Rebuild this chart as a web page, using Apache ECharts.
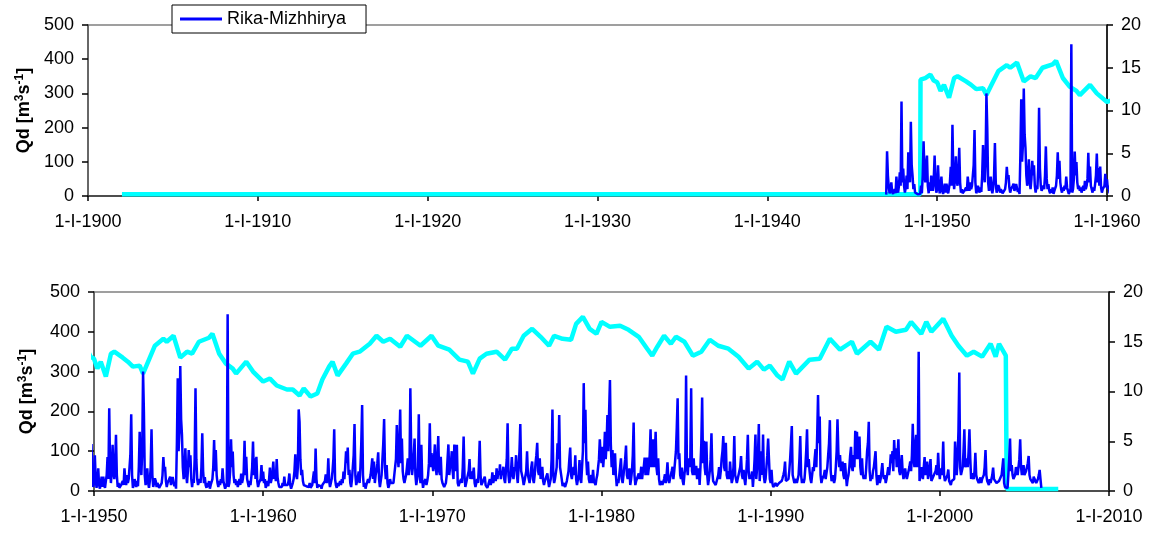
<!DOCTYPE html>
<html>
<head>
<meta charset="utf-8">
<script src="https://cdn.jsdelivr.net/npm/echarts@6/dist/echarts.min.js"></script>
<style>
html,body{margin:0;padding:0;background:#fff;}
#chart{width:1151px;height:533px;}
</style>
</head>
<body>
<div id="chart"></div>
<script>
// Station name (legend)
const stationName = 'Rika-Mizhhirya';
// X-axis ranges (years) for the two panels
const topYears = [1900, 1960];
const bottomYears = [1950, 2010];

// Daily discharge Qd [m3/s]:
// one row per calendar year starting in qdFirstYear, values evenly spread through the year
const qdFirstYear = 1947;
const qdRows = [
[4,131,60,25,8,15,40,12,6,10,20,8,57,20,10,30,69,30,276,40],          // 1947
[80,30,10,25,60,20,128,50,40,217,90,60,20,35,10,12,15,5,10,8],        // 1948
[6,30,8,60,160,70,40,90,118,30,8,40,15,60,30,15,50,118,40,10],        // 1949
[20,90,30,8,25,57,15,6,20,36,10,36,15,8,25,40,85,30,208,60],          // 1950
[20,50,116,45,30,70,141,40,10,20,8,6,15,10,25,15,57,30,15,40],        // 1951
[20,30,60,90,193,40,8,15,30,20,10,25,12,60,149,70,40,100,300,199],    // 1952
[40,15,30,57,20,8,25,60,155,40,10,20,32,25,10,20,15,8,12,5],          // 1953
[20,40,85,50,61,25,10,20,15,30,36,15,25,35,36,12,20,6,120,283],       // 1954
[100,150,314,180,141,60,30,50,107,40,20,50,103,60,90,30,10,30,20,80], // 1955
[258,80,30,15,10,30,20,60,145,50,20,35,15,8,20,10,25,6,15,10],        // 1956
[30,60,128,50,103,40,20,10,25,15,30,20,57,25,15,6,12,20,444,10],      // 1957
[20,50,130,60,99,40,20,30,15,25,10,20,30,15,44,20,30,50,126,40],      // 1958
[86,30,20,10,25,15,35,60,124,40,82,30,86,25,10,20,15,30,65,25],       // 1959
[49,20,30,8,15,25,12,30,59,20,30,45,74,30,45,25,80,35,20,10],         // 1960
[8,15,10,20,12,36,15,10,20,15,25,44,15,6,10,20,30,50,92,40],          // 1961
[30,60,205,174,80,40,53,25,15,10,20,12,8,15,10,20,8,12,15,10],        // 1962
[49,20,107,30,8,15,10,20,12,6,15,20,10,25,42,20,30,82,25,10],         // 1963
[20,30,50,80,155,30,15,8,20,12,10,25,15,30,20,49,30,60,100,70],       // 1964
[109,40,53,20,10,30,60,90,168,40,15,25,30,49,20,60,120,216,40,10],    // 1965
[20,6,15,10,30,20,15,40,60,82,30,74,20,40,50,70,97,30,10,25],         // 1966
[40,80,120,181,60,30,65,20,8,15,30,20,15,25,20,40,60,80,166,90],      // 1967
[60,120,205,70,132,50,30,20,25,40,60,82,40,60,258,100,40,60,90,132],  // 1968
[40,15,30,60,193,40,20,116,30,8,20,15,30,15,25,40,70,170,60,95],      // 1969
[95,50,80,117,60,40,80,138,50,40,86,30,20,15,10,8,20,40,80,117],      // 1970
[40,60,70,100,50,30,117,50,60,116,20,12,20,15,30,20,60,137,40,10],    // 1971
[20,30,40,50,80,30,49,30,40,59,20,10,15,30,20,60,126,40,15,20],       // 1972
[25,20,36,15,10,8,15,20,30,15,25,47,20,30,40,25,57,30,50,40],         // 1973
[67,30,50,40,61,30,20,50,80,170,40,20,30,50,85,40,30,60,50,90],       // 1974
[40,20,60,100,168,50,46,30,15,25,30,50,100,40,30,20,40,60,74,30],     // 1975
[20,40,70,90,121,50,40,82,30,40,61,25,15,25,20,30,44,25,10,15],       // 1976
[30,80,205,40,20,30,30,60,120,80,191,60,57,30,12,20,15,10,15,25],     // 1977
[20,50,80,109,40,30,50,60,40,90,30,15,20,40,78,30,20,60,100,271],     // 1978
[120,204,80,40,74,30,20,30,40,20,53,25,20,15,30,40,60,80,130,90],     // 1979
[70,111,60,90,149,80,120,191,100,200,279,120,60,103,40,60,95,40,12,30], // 1980
[20,40,60,82,30,20,40,60,80,114,40,30,40,57,15,30,50,90,172,40],      // 1981
[15,25,30,20,44,30,40,61,30,50,60,84,40,50,84,40,60,90,155,60],       // 1982
[80,130,60,90,149,60,40,82,30,15,20,25,15,20,30,42,20,40,72,30],      // 1983
[20,30,40,50,61,30,50,75,100,160,233,80,95,40,30,59,25,15,40,60],     // 1984
[290,60,40,82,60,80,258,50,40,82,40,50,63,30,40,57,15,60,120,235],    // 1985
[70,126,60,40,124,40,15,30,50,80,145,50,25,30,20,15,12,20,40,60],     // 1986
[30,50,80,100,138,60,50,121,40,30,50,30,74,40,20,30,60,138,40,30],    // 1987
[20,30,40,50,60,88,40,30,53,30,15,40,80,141,50,30,40,30,49,10],       // 1988
[40,80,142,30,60,90,168,25,60,100,40,142,36,20,30,60,90,132,80,30],   // 1989
[20,53,20,10,15,10,20,12,15,10,20,15,20,25,32,40,50,74,25,30],        // 1990
[20,30,50,80,120,163,40,30,20,15,30,20,20,40,80,138,40,20,30,20],     // 1991
[30,60,100,155,60,80,50,30,20,40,60,50,80,105,60,140,241,120,187,40], // 1992
[20,30,25,40,53,30,30,60,90,120,178,50,25,30,40,20,30,60,100,180],    // 1993
[100,60,90,50,60,74,40,30,70,40,12,30,40,60,90,111,60,50,90,60],      // 1994
[151,80,149,100,80,137,60,40,82,40,30,40,30,60,100,120,174,50,25,40], // 1995
[30,50,60,80,100,40,15,25,40,20,30,50,70,40,30,40,20,30,30,60],       // 1996
[40,60,92,70,100,50,128,80,107,60,90,130,50,40,60,90,50,30,40,57],    // 1997
[40,30,40,50,60,74,50,90,169,80,60,118,141,60,117,350,25,40,60,40],   // 1998
[30,60,85,40,60,74,30,40,60,80,25,30,20,40,40,50,65,40,96,50],        // 1999
[30,57,40,60,124,40,25,20,30,40,54,25,20,15,25,25,20,30,124,82],      // 2000
[40,80,150,298,60,40,40,60,100,155,60,70,82,60,100,155,80,30,45,40],  // 2001
[30,50,96,40,30,35,20,25,34,20,30,25,40,60,103,40,25,20,15,30],       // 2002
[20,30,40,59,30,35,25,20,15,20,25,30,20,40,60,82,20,10,7,5],          // 2003
[7,40,80,132,50,65,40,30,35,40,60,65,40,60,80,130,60,40,50,65],       // 2004
[40,35,50,60,70,88,40,30,30,25,20,36,30,25,20,15,30,40,53,30],        // 2005
[8]                                                                   // 2006
];

// Smoothed series on the right axis [decimal year, value]
const meanPoints = [
[1902.0,0.2],[1949.0,0.2],[1949.02,13.6],[1949.3,13.8],[1949.6,14.2],[1949.8,13.5],
[1950.0,13.3],[1950.2,12.3],[1950.4,13.0],[1950.7,11.5],[1951.0,13.8],[1951.2,14.0],[1951.7,13.4],[1952.0,13.0],[1952.3,12.5],[1952.7,12.6],[1952.9,11.8],[1953.2,13.0],[1953.6,14.6],[1954.1,15.3],[1954.3,15.0],[1954.7,15.6],[1955.1,13.4],[1955.5,14.0],[1955.8,13.8],[1956.2,15.0],[1956.8,15.4],[1957.0,15.8],[1957.4,13.8],[1957.8,12.8],[1958.2,12.3],[1958.4,11.8],[1959.0,13.0],[1959.4,12.0],
[1960.0,11.0],[1960.4,11.3],[1960.8,10.6],[1961.4,10.2],[1961.75,10.2],[1962.15,9.6],[1962.4,10.3],[1962.8,9.5],[1963.2,9.8],[1963.5,11.2],[1963.9,12.5],[1964.1,13.0],[1964.4,11.6],[1964.9,12.8],[1965.3,13.8],[1965.7,14.0],[1966.3,14.8],[1966.7,15.6],[1967.1,15.0],[1967.5,15.3],[1968.1,14.5],[1968.5,15.6],[1969.3,14.6],[1969.95,15.6],
[1970.35,14.6],[1971.0,14.2],[1971.6,13.2],[1972.1,13.0],[1972.4,11.8],[1972.8,13.3],[1973.2,13.8],[1973.8,14.0],[1974.3,13.2],[1974.7,14.3],[1975.0,14.3],[1975.4,15.6],[1975.9,16.3],[1976.4,15.5],[1976.9,14.6],[1977.2,15.6],[1977.7,15.3],[1978.2,15.2],[1978.5,16.8],[1978.9,17.5],[1979.3,16.3],[1979.7,15.8],
[1980.0,17.0],[1980.5,16.5],[1981.1,16.6],[1981.6,16.2],[1982.2,15.5],[1982.7,14.3],[1983.0,13.6],[1983.3,14.5],[1983.7,15.6],[1984.1,14.8],[1984.4,15.5],[1984.9,15.0],[1985.4,13.6],[1985.9,14.0],[1986.4,15.2],[1986.9,14.6],[1987.5,14.3],[1988.1,13.5],[1988.7,12.3],[1989.2,13.0],[1989.6,12.2],[1989.95,12.6],
[1990.4,11.6],[1990.7,11.2],[1991.1,13.0],[1991.5,11.8],[1992.3,13.2],[1992.9,13.3],[1993.5,15.3],[1994.1,14.2],[1994.8,15.0],[1995.1,13.8],[1995.9,15.0],[1996.4,14.2],[1996.85,16.5],[1997.4,16.0],[1998.0,16.2],[1998.3,17.0],[1998.9,15.8],[1999.2,17.0],[1999.5,16.0],
[2000.2,17.3],[2000.7,15.6],[2001.1,14.6],[2001.6,13.6],[2002.0,14.0],[2002.5,13.5],[2003.0,14.8],[2003.3,13.5],[2003.5,14.8],[2003.9,13.6],[2003.95,0.2],[2007.0,0.2]
];

// Build [time, value] pairs from the yearly rows (time only; values untouched)
const qdPoints = [];
qdRows.forEach((row, r) => {
  row.forEach((v, j) => qdPoints.push([qdFirstYear + r + j / row.length, v]));
});

const FONT = '"Liberation Sans", Arial, sans-serif';
const FS = 18;
const chart = echarts.init(document.getElementById('chart'), null, {renderer: 'canvas'});

function xAxisCfg(range, gridIndex) {
  return {
    type: 'value', gridIndex: gridIndex, min: range[0], max: range[1], interval: 10,
    axisLine: {show: true, onZero: false, lineStyle: {color: '#333', width: 1.5}},
    axisTick: {show: true, inside: false, length: 5, lineStyle: {color: '#000', width: 1.5}},
    axisLabel: {fontFamily: FONT, fontSize: FS, color: '#000', margin: 17,
      formatter: v => '1-I-' + v},
    splitLine: {show: false}
  };
}
function leftAxisCfg(gridIndex, gap) {
  return {
    type: 'value', gridIndex: gridIndex, position: 'left', min: 0, max: 500, interval: 100,
    name: 'Qd [m{sup|3}s{sup|-1}]', nameLocation: 'middle', nameGap: gap, nameRotate: 90,
    nameTextStyle: {fontFamily: FONT, fontSize: 18, fontWeight: 'bold', color: '#000',
      rich: {sup: {fontFamily: FONT, fontSize: 12, fontWeight: 'bold', verticalAlign: 'top', padding: [0,0,9,0]}}},
    axisLine: {show: true, lineStyle: {color: '#555', width: 1.5}},
    axisTick: {show: true, inside: false, length: 6, lineStyle: {color: '#000', width: 1.5}},
    axisLabel: {fontFamily: FONT, fontSize: FS, color: '#000', margin: 14},
    splitLine: {show: false}
  };
}
function rightAxisCfg(gridIndex) {
  return {
    type: 'value', gridIndex: gridIndex, position: 'right', min: 0, max: 20, interval: 5,
    axisLine: {show: true, lineStyle: {color: '#000', width: 1.5}},
    axisTick: {show: true, inside: false, length: 6, lineStyle: {color: '#000', width: 1.5}},
    axisLabel: {fontFamily: FONT, fontSize: FS, color: '#000', margin: 14},
    splitLine: {show: false}
  };
}

const option = {
  backgroundColor: '#fff',
  animation: false,
  legend: {
    show: true, left: 172, top: 5,
    data: [{name: stationName, icon: 'rect'}],
    itemWidth: 42, itemHeight: 3,
    backgroundColor: '#fff', borderColor: '#000', borderWidth: 1,
    padding: [5, 20, 5, 8],
    textStyle: {fontFamily: FONT, fontSize: FS, color: '#000'}
  },
  grid: [
    {left: 88, right: 44, top: 25, height: 171, show: true, borderColor: '#808080', borderWidth: 1.5, backgroundColor: '#fff'},
    {left: 94, right: 42, top: 292, height: 199, show: true, borderColor: '#808080', borderWidth: 1.5, backgroundColor: '#fff'}
  ],
  xAxis: [xAxisCfg(topYears, 0), xAxisCfg(bottomYears, 1)],
  yAxis: [leftAxisCfg(0, 50), rightAxisCfg(0), leftAxisCfg(1, 56), rightAxisCfg(1)],
  series: [
    {name: 'mean top', type: 'line', xAxisIndex: 0, yAxisIndex: 1, data: meanPoints,
      showSymbol: false, symbol: 'none', clip: true,
      lineStyle: {color: '#00ffff', width: 4.5}, itemStyle: {color: '#00ffff'}, z: 2},
    {name: stationName, type: 'line', xAxisIndex: 0, yAxisIndex: 0, data: qdPoints,
      showSymbol: false, symbol: 'none', clip: true, sampling: null,
      lineStyle: {color: '#0000ff', width: 2.5}, itemStyle: {color: '#0000ff'}, z: 3},
    {name: 'mean bottom', type: 'line', xAxisIndex: 1, yAxisIndex: 3, data: meanPoints,
      showSymbol: false, symbol: 'none', clip: true,
      lineStyle: {color: '#00ffff', width: 4.5}, itemStyle: {color: '#00ffff'}, z: 2},
    {name: stationName + ' ', type: 'line', xAxisIndex: 1, yAxisIndex: 2, data: qdPoints,
      showSymbol: false, symbol: 'none', clip: true, sampling: null,
      lineStyle: {color: '#0000ff', width: 2.5}, itemStyle: {color: '#0000ff'}, z: 3}
  ]
};
chart.setOption(option);
</script>
</body>
</html>
